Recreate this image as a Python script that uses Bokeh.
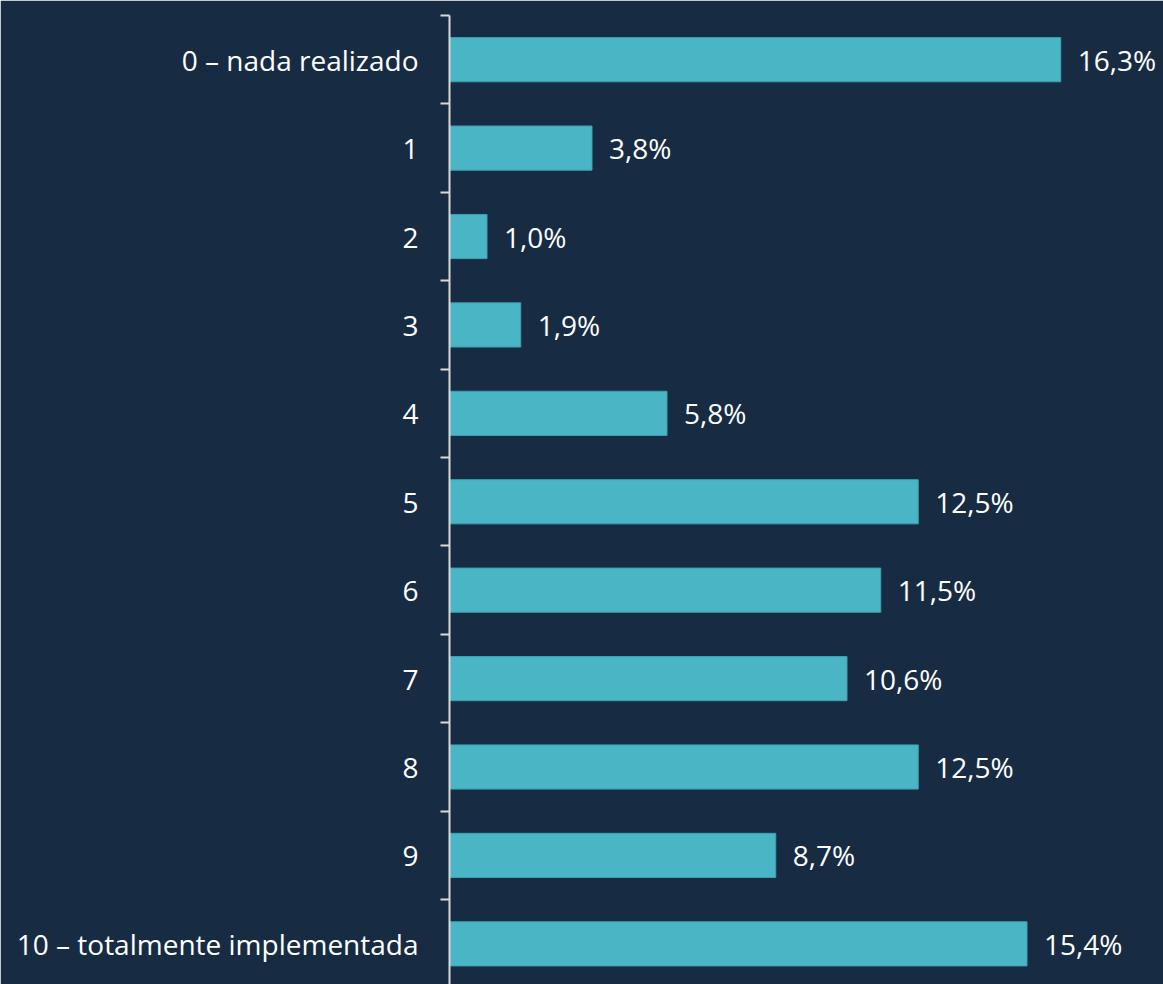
import re
from bokeh.plotting import figure
from bokeh.models import Range1d, FixedTicker, ColumnDataSource
from bokeh.core.properties import value
from bokeh.embed import file_html
from bokeh.resources import INLINE

categories = ["0 – nada realizado", "1", "2", "3", "4", "5", "6", "7", "8", "9",
              "10 – totalmente implementada"]
values = [16.3, 3.8, 1.0, 1.9, 5.8, 12.5, 11.5, 10.6, 12.5, 8.7, 15.4]
value_labels = ["16,3%", "3,8%", "1,0%", "1,9%", "5,8%", "12,5%", "11,5%", "10,6%",
                "12,5%", "8,7%", "15,4%"]

BG = "#172c42"
BAR = "#4ab5c5"
FONT = "Open Sans"

n = len(categories)
centers = [i + 0.5 for i in range(n)]
bounds = list(range(n))

src = ColumnDataSource(dict(y=centers, v=values, lab=value_labels))

p = figure(width=1163, height=984, output_backend="svg", toolbar_location=None,
           x_range=Range1d(0, 19.04), y_range=Range1d(10.96, 0),
           min_border_left=449, min_border_right=0, min_border_top=15,
           min_border_bottom=0)
p.background_fill_color = BG
p.border_fill_color = BG
p.outline_line_color = BG
p.outline_line_width = 2
p.grid.visible = False
p.xaxis.visible = False

p.hbar(y="y", right="v", left=0, height=0.5, source=src, fill_color=BAR,
       line_color="#3f9fae", line_width=1)
p.text(x="v", y="y", text="lab", source=src, x_offset=17, text_align="left",
       text_baseline="middle", text_color="white", text_font=value(FONT),
       text_font_size="28px")

ax = p.yaxis[0]
ax.ticker = FixedTicker(ticks=centers, minor_ticks=bounds)
ax.major_label_overrides = {c: lab for c, lab in zip(centers, categories)}
ax.major_tick_line_color = None
ax.major_tick_out = 0
ax.major_tick_in = 0
ax.minor_tick_out = 9
ax.minor_tick_in = 0
ax.minor_tick_line_color = "#d9d9d9"
ax.minor_tick_line_width = 2
ax.axis_line_color = "#d9d9d9"
ax.axis_line_width = 2
ax.major_label_standoff = 22
ax.major_label_text_color = "white"
ax.major_label_text_font = FONT
ax.major_label_text_font_size = "28px"

html = file_html(p, INLINE)
html = re.sub(r"<body[^>]*>", "<body style=\"background:%s;\">" % BG, html, count=1)
open("out.html", "w").write(html)
